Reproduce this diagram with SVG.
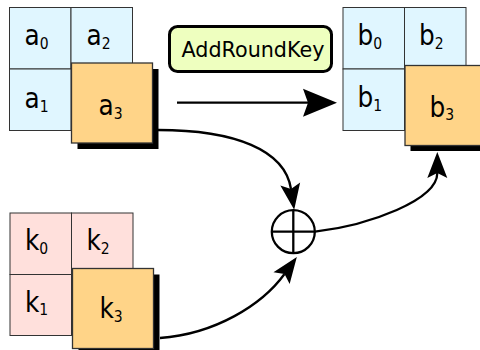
<svg xmlns="http://www.w3.org/2000/svg" width="480" height="350" viewBox="0 0 480 350">
  <style>
    .cell { stroke: #333; stroke-width: 1; }
    .blue { fill: #e0f6ff; }
    .pink { fill: #ffe0dc; }
    .big { fill: #ffd488; stroke: #333; stroke-width: 1.3; }
    .shadow { fill: #000; }
    .lbl { font-family: "DejaVu Sans Condensed", "DejaVu Sans", sans-serif; font-size: 27.5px; fill: #000; }
    .sub { font-size: 15.5px; }
    .wire { fill: none; stroke: #000; stroke-width: 2.3; }
    .op { font-family: "DejaVu Sans", sans-serif; font-size: 20.7px; fill: #000; }
  </style>
  <defs>
    <marker id="headBig" markerUnits="userSpaceOnUse" orient="auto" refX="0" refY="0" markerWidth="40" markerHeight="30" overflow="visible">
      <path d="M29,0 L-5,-14 L0,0 L-5,14 Z" fill="#000"/>
    </marker>
    <marker id="head" markerUnits="userSpaceOnUse" orient="auto" refX="0" refY="0" markerWidth="30" markerHeight="24" overflow="visible">
      <path d="M21,0 L-5,-10 L0,0 L-5,10 Z" fill="#000"/>
    </marker>
  </defs>

  <!-- state matrix a -->
  <g id="state-a">
    <rect class="cell blue" x="9.5" y="7.5" width="61.5" height="61.5"/>
    <rect class="cell blue" x="71" y="7.5" width="61.5" height="61.5"/>
    <rect class="cell blue" x="9.5" y="69" width="61.5" height="61.5"/>
    <text class="lbl" x="24.5" y="45">a<tspan class="sub" dy="3.5">0</tspan></text>
    <text class="lbl" x="86.5" y="45">a<tspan class="sub" dy="3.5">2</tspan></text>
    <text class="lbl" x="24.5" y="108">a<tspan class="sub" dy="3.5">1</tspan></text>
    <rect class="shadow" x="77.5" y="69" width="81" height="80"/>
    <rect class="big" x="71.5" y="63" width="81" height="80"/>
    <text class="lbl" x="98.5" y="115">a<tspan class="sub" dy="3.5">3</tspan></text>
  </g>

  <!-- round key k -->
  <g id="key-k">
    <rect class="cell pink" x="10" y="213" width="61.5" height="61.5"/>
    <rect class="cell pink" x="71.5" y="213" width="61.5" height="61.5"/>
    <rect class="cell pink" x="10" y="274.5" width="61.5" height="61"/>
    <text class="lbl" x="25" y="250">k<tspan class="sub" dy="3.5">0</tspan></text>
    <text class="lbl" x="86.5" y="250">k<tspan class="sub" dy="3.5">2</tspan></text>
    <text class="lbl" x="25" y="311.5">k<tspan class="sub" dy="3.5">1</tspan></text>
    <rect class="shadow" x="78.5" y="274.5" width="81" height="80"/>
    <rect class="big" x="72.5" y="268.5" width="81" height="80"/>
    <text class="lbl" x="99.5" y="318">k<tspan class="sub" dy="3.5">3</tspan></text>
  </g>

  <!-- output matrix b -->
  <g id="state-b">
    <rect class="cell blue" x="343" y="7.5" width="61.5" height="61.5"/>
    <rect class="cell blue" x="404.5" y="7.5" width="61.5" height="61.5"/>
    <rect class="cell blue" x="343" y="69" width="61.5" height="61.5"/>
    <text class="lbl" x="357.5" y="45">b<tspan class="sub" dy="3.5">0</tspan></text>
    <text class="lbl" x="419" y="45">b<tspan class="sub" dy="3.5">2</tspan></text>
    <text class="lbl" x="357.5" y="107">b<tspan class="sub" dy="3.5">1</tspan></text>
    <rect class="shadow" x="410.5" y="71.5" width="81" height="79.5"/>
    <rect class="big" x="405" y="65.5" width="81" height="80"/>
    <text class="lbl" x="429.5" y="116.5">b<tspan class="sub" dy="3.5">3</tspan></text>
  </g>

  <!-- operation label -->
  <g id="addroundkey">
    <rect x="169.5" y="26.5" width="162" height="45" rx="8" ry="8" fill="#eeffbf" stroke="#000" stroke-width="3"/>
    <text class="op" x="253" y="57" text-anchor="middle">AddRoundKey</text>
  </g>

  <!-- XOR node -->
  <g id="xor">
    <circle cx="293.3" cy="231.7" r="21.5" fill="#fff" stroke="#000" stroke-width="2.3"/>
    <line x1="293.3" y1="210.2" x2="293.3" y2="253.2" stroke="#000" stroke-width="2.3"/>
    <line x1="271.8" y1="231.7" x2="314.8" y2="231.7" stroke="#000" stroke-width="2.3"/>
  </g>

  <!-- connectors -->
  <g id="connectors">
    <path class="wire" d="M177,102.7 H308" marker-end="url(#headBig)"/>
    <path class="wire" d="M158,130 C235,130 285,150 291,189" marker-end="url(#head)"/>
    <path class="wire" d="M160,338 C215,334 262,305 284.5,274" marker-end="url(#head)"/>
    <path class="wire" d="M315,231.7 C370,225 437.3,200 437.3,173" marker-end="url(#head)"/>
  </g>
</svg>
